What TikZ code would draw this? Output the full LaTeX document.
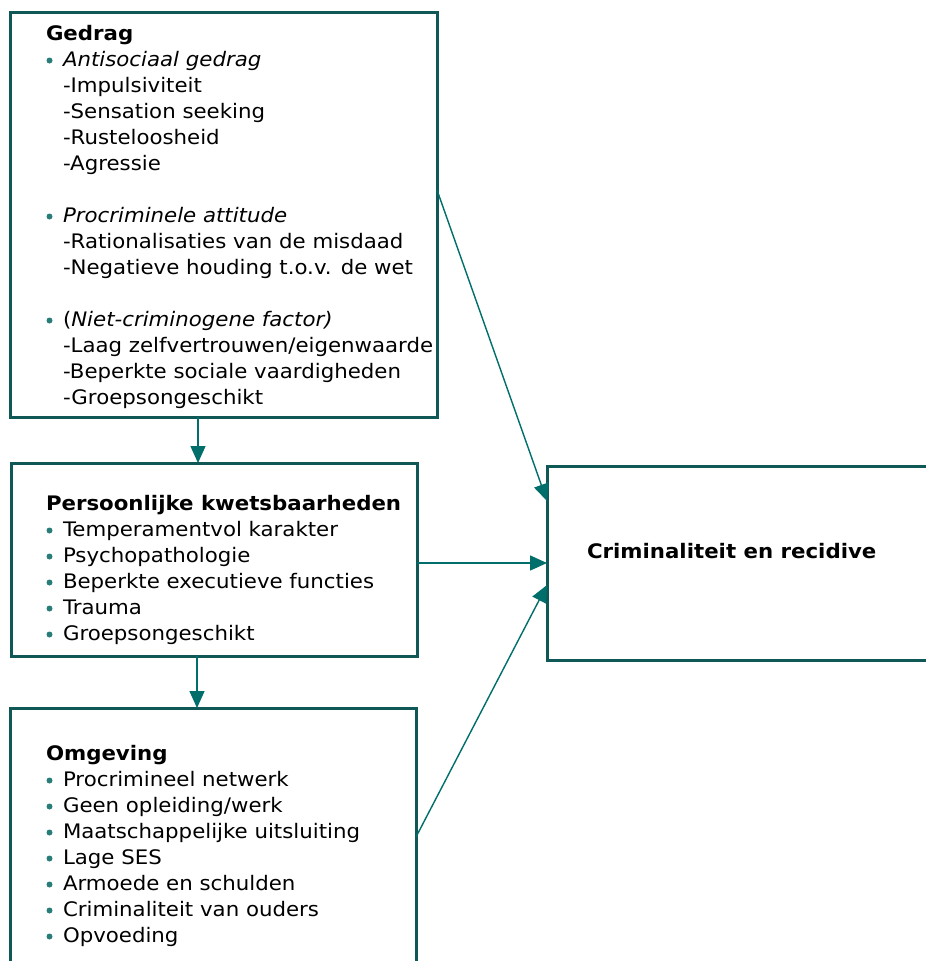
\documentclass[tikz,border=0pt]{standalone}
\usepackage{fontspec}
\setmainfont[FakeStretch=1.065]{DejaVu Sans}
\usetikzlibrary{arrows.meta,calc}
\definecolor{boxcol}{RGB}{16,88,86}
\definecolor{arrcol}{RGB}{0,110,106}
\definecolor{bulcol}{RGB}{40,125,120}
\tikzset{
  box/.style={draw=boxcol,line width=3pt,rectangle,inner sep=0pt,outer sep=0pt,anchor=north west},
  arr/.style={draw=arrcol,line width=1.4pt,-{Triangle[length=17pt,width=15pt]}},
  txt/.style={anchor=base west,inner sep=0pt,outer sep=0pt,font=\fontsize{20}{26}\selectfont},
  hd/.style={txt,font=\fontsize{20}{26}\selectfont\bfseries},
}
\newcommand\tline[4]{\node[txt] (#1) at (#2,#3) {#4};}
\newcommand\bline[3]{\fill[bulcol] (49.5,#2-5.5) circle (3pt); \node[txt] (#1) at (63,#2) {#3};}
\begin{document}
\begin{tikzpicture}[x=1pt,y=-1pt]
\useasboundingbox (0,0) rectangle (926,961);
\clip (0,0) rectangle (926,961);
\fill[white] (0,0) rectangle (926,961);
% boxes
\node[box,minimum width=427pt,minimum height=405pt] (gedrag) at (10,12) {};
\node[box,minimum width=406pt,minimum height=193pt] (pers) at (11,463) {};
\node[box,minimum width=406pt,minimum height=272pt] (omg) at (10,708) {};
\node[box,minimum width=400pt,minimum height=194pt] (crim) at (547,466) {};
% Gedrag text
\node[hd] (g0) at (46,40) {Gedrag};
\bline{g1}{66}{\itshape Antisociaal gedrag}
\tline{g2}{63}{92}{-Impulsiviteit}
\tline{g3}{63}{118}{-Sensation seeking}
\tline{g4}{63}{144}{-Rusteloosheid}
\tline{g5}{63}{170}{-Agressie}
\bline{g6}{222}{\itshape Procriminele attitude}
\tline{g7}{63}{248}{-Rationalisaties van de misdaad}
\tline{g8}{63}{274}{-Negatieve houding t.o.v. de wet}
\bline{g9}{326}{(\itshape Niet-criminogene factor)}
\tline{g10}{63}{352}{-Laag zelfvertrouwen/eigenwaarde}
\tline{g11}{63}{378}{-Beperkte sociale vaardigheden}
\tline{g12}{63}{404}{-Groepsongeschikt}
% Persoonlijke
\node[hd] (p0) at (46,510) {Persoonlijke kwetsbaarheden};
\bline{p1}{536}{Temperamentvol karakter}
\bline{p2}{562}{Psychopathologie}
\bline{p3}{588}{Beperkte executieve functies}
\bline{p4}{614}{Trauma}
\bline{p5}{640}{Groepsongeschikt}
% Omgeving
\node[hd] (o0) at (46,760) {Omgeving};
\bline{o1}{786}{Procrimineel netwerk}
\bline{o2}{812}{Geen opleiding/werk}
\bline{o3}{838}{Maatschappelijke uitsluiting}
\bline{o4}{864}{Lage SES}
\bline{o5}{890}{Armoede en schulden}
\bline{o6}{916}{Criminaliteit van ouders}
\bline{o7}{942}{Opvoeding}
% Criminaliteit
\node[hd] (c0) at (587,558) {Criminaliteit en recidive};
% arrows
\draw[arr] ([xshift=-25.5pt]gedrag.south) -- ([xshift=-16pt]pers.north);
\draw[arr] ([xshift=-17pt]pers.south) -- ([xshift=-16pt]omg.north);
\draw[arr] ([yshift=24.5pt]gedrag.east) -- ([yshift=62pt]crim.west);
\draw[arr] (pers.east |- crim.west) -- (crim.west);
\draw[arr] ([yshift=7pt]omg.east) -- ([yshift=-22pt]crim.west);
\end{tikzpicture}
\end{document}
